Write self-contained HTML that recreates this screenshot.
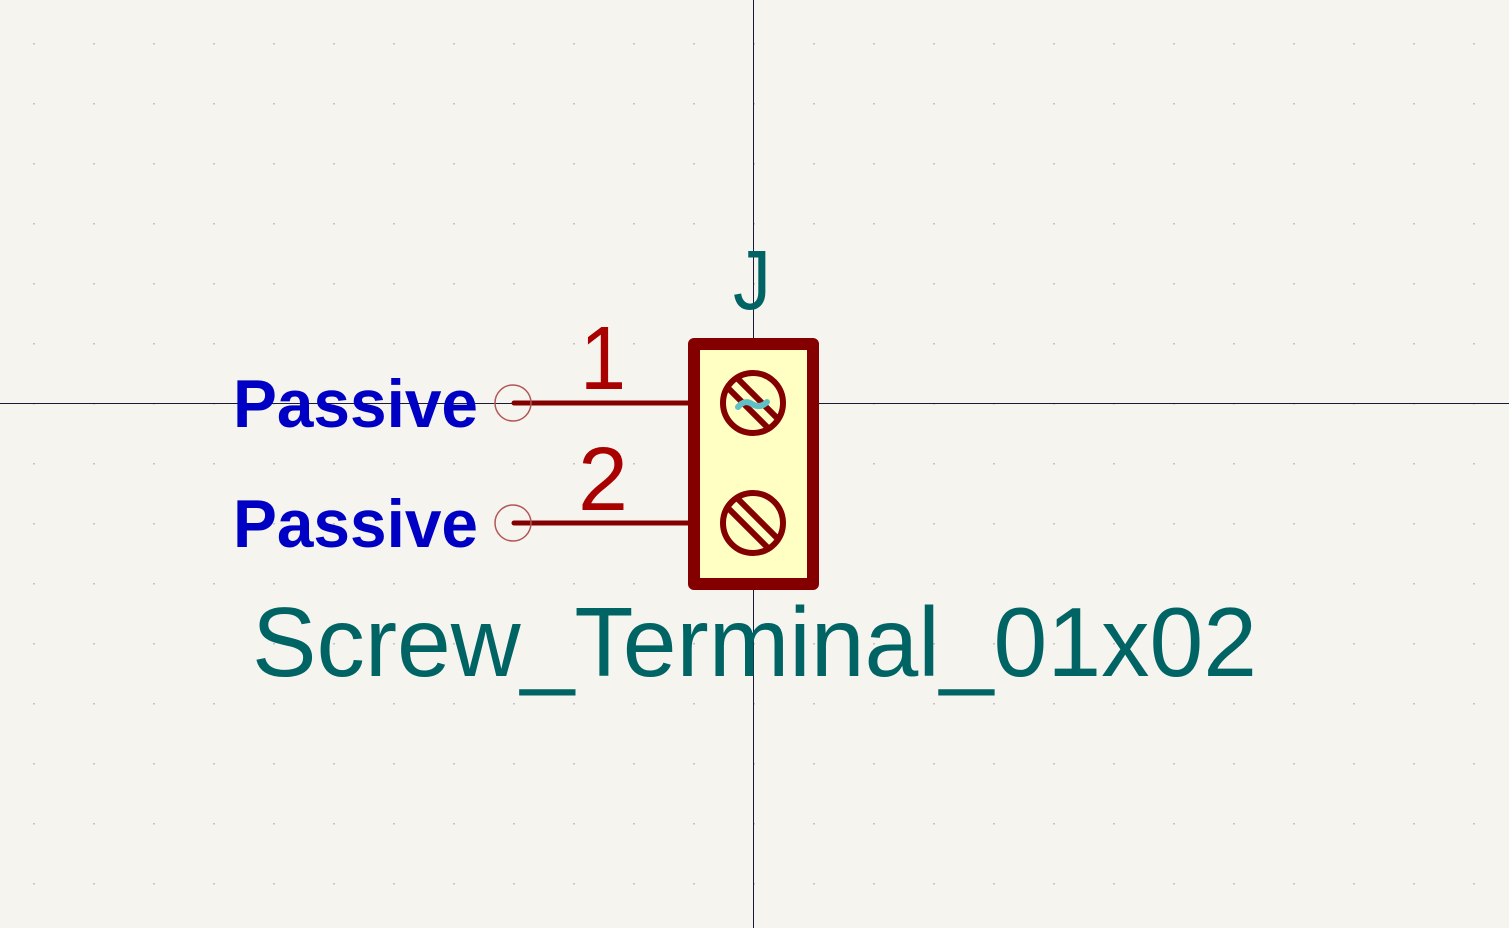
<!DOCTYPE html>
<html><head><style>html,body{margin:0;padding:0;background:#f5f4ef;}svg{display:block}</style></head><body>
<svg width="1509" height="928" viewBox="0 0 1509 928" xmlns="http://www.w3.org/2000/svg">
<defs><pattern id="g" x="33" y="43" width="60" height="60" patternUnits="userSpaceOnUse"><rect width="2" height="1.5" fill="#c4c4c4"/></pattern></defs>
<rect width="1509" height="928" fill="#f5f4ef"/>
<rect width="1509" height="928" fill="url(#g)"/>
<line x1="753.5" y1="0" x2="753.5" y2="928" stroke="#1a1a3a" stroke-width="1"/>
<line x1="0" y1="403.5" x2="1509" y2="403.5" stroke="#1a1a3a" stroke-width="1"/>
<rect x="694" y="344" width="119" height="240" fill="#ffffc4" stroke="#840000" stroke-width="12" stroke-linejoin="round"/>
<line x1="514" y1="403" x2="688" y2="403" stroke="#840000" stroke-width="5" stroke-linecap="round"/>
<line x1="514" y1="523" x2="688" y2="523" stroke="#840000" stroke-width="5" stroke-linecap="round"/>
<circle cx="513" cy="403" r="18" fill="none" stroke="#b25656" stroke-width="1.5"/>
<circle cx="513" cy="523" r="18" fill="none" stroke="#b25656" stroke-width="1.5"/>
<g stroke="#840000" stroke-width="6" fill="none">
<circle cx="753" cy="403" r="30"/>
<circle cx="753" cy="523" r="30"/>
<line x1="736" y1="377" x2="777" y2="418"/>
<line x1="728" y1="388" x2="768" y2="428"/>
<line x1="736" y1="497" x2="777" y2="538"/>
<line x1="728" y1="508" x2="768" y2="548"/>
</g>
<path d="M738 407 Q745 399 752 404 Q760 409 767 402" stroke="#5fc1c6" stroke-width="6" fill="none" stroke-linecap="round"/>
<g font-family="Liberation Sans, sans-serif">
<text x="233" y="427" font-size="68" font-weight="bold" fill="#0000c4" textLength="245" lengthAdjust="spacingAndGlyphs">Passive</text>
<text x="233" y="547" font-size="68" font-weight="bold" fill="#0000c4" textLength="245" lengthAdjust="spacingAndGlyphs">Passive</text>
<text x="580" y="389" font-size="90" fill="#a90000" textLength="46" lengthAdjust="spacingAndGlyphs">1</text>
<text x="578" y="510" font-size="90" fill="#a90000" textLength="50" lengthAdjust="spacingAndGlyphs">2</text>
<text x="733" y="309" font-size="84" fill="#006464" textLength="38" lengthAdjust="spacingAndGlyphs">J</text>
<text x="252" y="676" font-size="98" fill="#006464" textLength="1005" lengthAdjust="spacingAndGlyphs">Screw_Terminal_01x02</text>
</g>
</svg>
</body></html>
